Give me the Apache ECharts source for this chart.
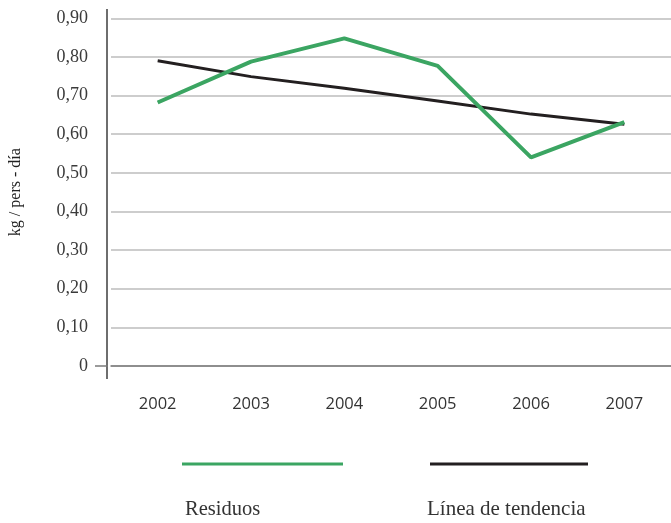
<!DOCTYPE html>
<html>
<head>
<meta charset="utf-8">
<script src="https://cdn.jsdelivr.net/npm/echarts@6/dist/echarts.min.js"></script>
<style>html,body{margin:0;padding:0;background:#fff}#chart{width:671px;height:523px}</style>
</head>
<body>
<div id="chart"></div>
<script>
var categories = ['2002', '2003', '2004', '2005', '2006', '2007'];
var residuos = [0.682, 0.788, 0.848, 0.777, 0.540, 0.631];
var tendencia = [0.790, 0.749, 0.719, 0.686, 0.652, 0.626];
var seriesNames = ['Residuos', 'Línea de tendencia'];
var yAxisName = 'kg / pers - día';

var serif = '"Liberation Serif", "DejaVu Serif", serif';
var chart = echarts.init(document.getElementById('chart'), null, {renderer: 'canvas'});
chart.setOption({
  animation: false,
  backgroundColor: '#ffffff',
  grid: {left: 108, right: -3, top: 18.3, bottom: 157, containLabel: false},
  legend: [
    {data: [seriesNames[0]], left: 182, top: 462.5, itemWidth: 161, itemHeight: 3, icon: 'rect',
     formatter: function(){return '';}, itemGap: 0, padding: 0, textStyle: {fontSize: 1}},
    {data: [seriesNames[1]], left: 430, top: 462.5, itemWidth: 158, itemHeight: 3, icon: 'rect',
     formatter: function(){return '';}, itemGap: 0, padding: 0, textStyle: {fontSize: 1}}
  ],
  xAxis: {
    type: 'category',
    data: categories,
    boundaryGap: true,
    axisLine: {show: true, lineStyle: {color: '#7a7a7a', width: 1.5}},
    axisTick: {show: false},
    axisLabel: {margin: 30, fontSize: 16.5, fontFamily: '"Open Sans", sans-serif', color: '#333'},
    splitLine: {show: false}
  },
  yAxis: {
    type: 'value',
    min: 0, max: 0.9, interval: 0.1,
    name: yAxisName,
    nameLocation: 'middle',
    nameRotate: 90,
    nameGap: 87,
    nameTextStyle: {fontSize: 16, fontFamily: serif, color: '#222'},
    axisLine: {show: false},
    axisTick: {show: false},
    axisLabel: {
      margin: 23, fontSize: 18, fontFamily: serif, color: '#3a3a3a',
      formatter: function (v) { return v === 0 ? '0' : v.toFixed(2).replace('.', ','); }
    },
    splitLine: {show: true, lineStyle: {color: '#bdbdbd', width: 1.5}}
  },
  graphic: [
    {type: 'line', shape: {x1: 107, y1: 9, x2: 107, y2: 379}, style: {stroke: '#6e6e6e', lineWidth: 2}, z: 10},
    {type: 'line', shape: {x1: 95, y1: 366, x2: 108, y2: 366}, style: {stroke: '#7a7a7a', lineWidth: 1.5}, z: 10},
    {type: 'text', left: 185, top: 499, style: {text: seriesNames[0], fontSize: 20.5, fontFamily: serif, fill: '#333'}},
    {type: 'text', left: 427, top: 499, style: {text: seriesNames[1], fontSize: 21, fontFamily: serif, fill: '#333'}}
  ],
  series: [
    {name: seriesNames[0], type: 'line', data: residuos, symbol: 'none', z: 3,
     lineStyle: {color: '#3ba562', width: 4}, itemStyle: {color: '#3ba562'}},
    {name: seriesNames[1], type: 'line', data: tendencia, symbol: 'none', z: 2,
     lineStyle: {color: '#231f20', width: 3}, itemStyle: {color: '#231f20'}}
  ]
});
</script>
</body>
</html>
